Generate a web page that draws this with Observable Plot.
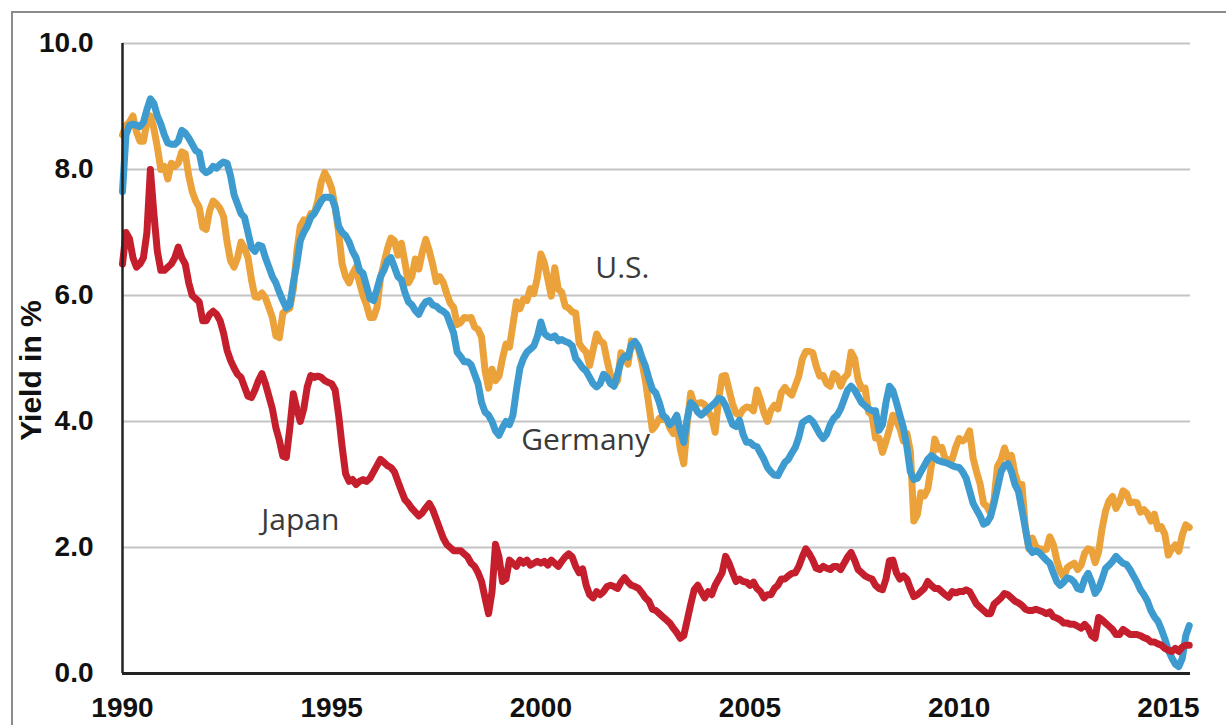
<!DOCTYPE html>
<html><head><meta charset="utf-8">
<script src="https://cdn.jsdelivr.net/npm/d3@7"></script>
<script src="https://cdn.jsdelivr.net/npm/@observablehq/plot@0.6"></script>
<style>
html,body{margin:0;padding:0;background:#fff;}
#wrap{position:relative;width:1226px;height:725px;overflow:hidden;background:#fff;}
#frame{position:absolute;left:11px;top:11px;width:1300px;height:800px;border-left:2px solid #8c8c8c;border-top:2px solid #8c8c8c;}
#chart{position:absolute;left:0;top:0;}
</style></head><body>
<div id="wrap"><div id="frame"></div><div id="chart"></div></div>
<script>
// Monthly 10-year government bond yields (%), Jan 1990 onward
const startYear = 1990;
const usYield = [
8.55,8.70,8.75,8.85,8.60,8.45,8.45,8.75,8.85,8.65,8.35,8.00,
8.05,7.85,8.10,8.05,8.10,8.28,8.25,7.90,7.65,7.50,7.40,7.08,
7.05,7.35,7.50,7.45,7.38,7.25,6.85,6.55,6.45,6.60,6.85,6.75,
6.60,6.25,5.98,5.97,6.04,5.96,5.81,5.65,5.36,5.33,5.72,5.77,
5.80,6.10,6.70,7.10,7.20,7.15,7.30,7.30,7.50,7.80,7.95,7.85,
7.70,7.40,7.00,6.50,6.30,6.20,6.35,6.45,6.20,6.00,5.85,5.65,
5.65,5.81,6.27,6.51,6.74,6.91,6.87,6.64,6.83,6.53,6.20,6.30,
6.58,6.42,6.69,6.89,6.71,6.49,6.22,6.30,6.21,6.03,5.88,5.81,
5.54,5.57,5.65,5.64,5.65,5.50,5.46,5.34,4.81,4.53,4.83,4.65,
4.72,5.00,5.23,5.18,5.54,5.90,5.79,5.94,5.92,6.11,6.03,6.28,
6.66,6.52,6.26,5.99,6.44,6.10,6.05,5.83,5.80,5.74,5.72,5.24,
5.16,5.10,4.89,5.14,5.39,5.28,5.24,4.97,4.73,4.57,4.65,5.09,
5.04,4.91,5.28,5.21,5.16,4.93,4.65,4.26,3.87,3.94,4.05,4.03,
4.05,3.90,3.81,3.96,3.57,3.33,3.98,4.45,4.27,4.29,4.30,4.27,
4.15,4.08,3.83,4.35,4.72,4.73,4.50,4.28,4.13,4.10,4.19,4.23,
4.22,4.17,4.50,4.34,4.14,4.00,4.18,4.26,4.20,4.46,4.54,4.47,
4.42,4.57,4.72,4.99,5.11,5.11,5.09,4.88,4.72,4.73,4.60,4.56,
4.76,4.72,4.56,4.69,4.75,5.10,5.00,4.67,4.52,4.53,4.15,4.10,
3.74,3.74,3.51,3.68,3.88,4.10,4.01,3.89,3.69,3.81,3.53,2.42,
2.52,2.87,2.82,2.93,3.29,3.72,3.56,3.59,3.40,3.39,3.40,3.59,
3.73,3.69,3.73,3.85,3.42,3.20,3.01,2.70,2.65,2.54,2.76,3.29,
3.39,3.58,3.41,3.46,3.17,3.00,3.00,2.30,1.98,2.15,2.01,1.98,
1.97,1.97,2.17,2.05,1.80,1.62,1.53,1.68,1.72,1.75,1.65,1.72,
1.91,1.98,1.96,1.76,1.93,2.30,2.58,2.74,2.81,2.62,2.72,2.90,
2.86,2.71,2.72,2.71,2.56,2.60,2.54,2.42,2.53,2.30,2.33,2.21,
1.88,1.98,2.04,1.94,2.20,2.36,2.32
];
const germanyYield = [
7.65,8.55,8.70,8.72,8.70,8.68,8.75,8.95,9.12,9.05,8.85,8.72,
8.55,8.42,8.40,8.40,8.45,8.62,8.58,8.50,8.40,8.30,8.27,8.00,
7.95,7.98,8.05,8.02,8.08,8.12,8.10,7.90,7.60,7.45,7.30,7.24,
7.00,6.76,6.70,6.80,6.78,6.60,6.45,6.30,6.20,6.05,5.92,5.80,
5.85,6.20,6.50,6.87,7.00,7.10,7.24,7.30,7.40,7.50,7.56,7.56,
7.55,7.40,7.10,7.00,6.95,6.85,6.70,6.60,6.40,6.35,6.15,5.95,
5.92,6.10,6.30,6.40,6.55,6.60,6.45,6.30,6.25,6.05,5.90,5.85,
5.76,5.70,5.82,5.90,5.92,5.85,5.83,5.78,5.75,5.70,5.55,5.40,
5.10,5.03,4.95,4.95,4.90,4.75,4.60,4.30,4.15,4.10,4.00,3.85,
3.78,3.90,4.00,3.95,4.10,4.50,4.85,5.00,5.10,5.15,5.20,5.35,
5.58,5.40,5.35,5.33,5.36,5.28,5.30,5.27,5.25,5.20,5.00,4.93,
4.85,4.80,4.70,4.60,4.55,4.60,4.75,4.70,4.60,4.56,4.75,4.95,
5.04,5.02,5.22,5.27,5.19,5.02,4.88,4.68,4.51,4.45,4.30,4.10,
4.05,3.95,4.00,4.10,3.85,3.67,4.05,4.30,4.25,4.15,4.10,4.15,
4.20,4.25,4.30,4.37,4.35,4.25,4.10,3.95,3.92,4.02,3.80,3.67,
3.67,3.62,3.60,3.50,3.40,3.27,3.20,3.15,3.14,3.25,3.35,3.40,
3.50,3.59,3.75,3.98,4.02,4.05,4.00,3.90,3.80,3.73,3.80,3.95,
4.05,4.10,4.20,4.35,4.50,4.56,4.50,4.40,4.30,4.25,4.20,4.17,
4.17,3.86,3.95,4.30,4.56,4.49,4.30,4.10,3.90,3.60,3.20,3.08,
3.10,3.20,3.30,3.40,3.46,3.42,3.38,3.36,3.35,3.33,3.30,3.28,
3.27,3.20,3.10,2.90,2.70,2.60,2.50,2.37,2.40,2.49,2.70,2.95,
3.20,3.30,3.33,3.20,3.00,2.89,2.60,2.30,2.00,1.92,1.95,1.92,
1.86,1.80,1.75,1.60,1.46,1.40,1.45,1.52,1.50,1.45,1.35,1.33,
1.50,1.59,1.45,1.27,1.35,1.50,1.67,1.72,1.78,1.86,1.80,1.75,
1.73,1.65,1.55,1.45,1.33,1.25,1.15,1.00,0.90,0.83,0.70,0.55,
0.37,0.25,0.15,0.11,0.24,0.60,0.76
];
const japanYield = [
6.50,7.00,6.90,6.60,6.45,6.50,6.60,7.00,8.00,7.30,6.70,6.40,
6.40,6.45,6.50,6.60,6.77,6.60,6.50,6.20,6.00,5.95,5.90,5.60,
5.60,5.70,5.75,5.70,5.60,5.40,5.13,4.97,4.85,4.75,4.70,4.55,
4.40,4.38,4.50,4.65,4.76,4.60,4.40,4.20,3.90,3.70,3.45,3.43,
3.90,4.44,4.20,4.00,4.20,4.55,4.73,4.70,4.72,4.70,4.65,4.62,
4.60,4.50,4.10,3.60,3.17,3.05,3.08,3.00,3.05,3.08,3.05,3.10,
3.20,3.30,3.40,3.35,3.30,3.27,3.20,3.05,2.90,2.76,2.70,2.62,
2.56,2.50,2.55,2.63,2.70,2.60,2.45,2.30,2.15,2.05,2.00,1.95,
1.95,1.95,1.90,1.85,1.75,1.70,1.60,1.46,1.20,0.95,1.30,2.05,
1.85,1.46,1.50,1.80,1.75,1.70,1.80,1.75,1.80,1.72,1.75,1.78,
1.75,1.78,1.72,1.80,1.75,1.70,1.78,1.85,1.90,1.85,1.70,1.60,
1.66,1.40,1.25,1.20,1.30,1.25,1.30,1.38,1.40,1.38,1.35,1.45,
1.52,1.45,1.40,1.38,1.35,1.28,1.20,1.15,1.02,1.00,0.95,0.90,
0.85,0.80,0.72,0.65,0.56,0.60,0.85,1.10,1.33,1.40,1.30,1.20,
1.30,1.25,1.40,1.50,1.60,1.86,1.75,1.60,1.46,1.50,1.46,1.45,
1.40,1.45,1.35,1.30,1.20,1.25,1.25,1.35,1.40,1.50,1.50,1.55,
1.59,1.60,1.70,1.85,1.98,1.90,1.80,1.67,1.65,1.70,1.67,1.65,
1.70,1.70,1.65,1.75,1.85,1.92,1.80,1.65,1.60,1.55,1.52,1.50,
1.40,1.35,1.33,1.50,1.79,1.80,1.60,1.50,1.55,1.50,1.35,1.22,
1.25,1.30,1.35,1.46,1.40,1.35,1.35,1.30,1.25,1.21,1.30,1.28,
1.30,1.30,1.33,1.30,1.20,1.10,1.05,1.00,0.95,0.95,1.10,1.15,
1.20,1.27,1.25,1.20,1.15,1.12,1.08,1.02,1.00,1.00,1.02,1.00,
0.98,0.95,0.98,0.90,0.88,0.85,0.80,0.80,0.78,0.78,0.75,0.72,
0.78,0.72,0.60,0.56,0.89,0.85,0.80,0.75,0.70,0.62,0.62,0.70,
0.66,0.62,0.62,0.62,0.60,0.57,0.55,0.50,0.50,0.47,0.45,0.40,
0.37,0.35,0.40,0.35,0.42,0.45,0.45
];
const xDomain = [1990, 2015.53];
const yDomain = [0, 10];
const xTicks = [1990, 1995, 2000, 2005, 2010, 2015];
const yTicks = [0, 2, 4, 6, 8, 10];
const yTickLabels = ["0.0", "2.0", "4.0", "6.0", "8.0", "10.0"];
const seriesNames = ["U.S.", "Germany", "Japan"];
const seriesColors = ["#EBA23A", "#3E9BCF", "#C51F2D"];
const labelX = [2001.95, 2001.07, 1994.25];
const labelY = [6.43, 3.70, 2.43];
const yAxisTitle = "Yield in %";

const rows = (values) => values.map((v, i) => ({date: startYear + i / 12, value: v}));
const series = [usYield, germanyYield, japanYield].map(rows);
const annotations = seriesNames.map((name, i) => ({name, x: labelX[i], y: labelY[i]}));

const chart = Plot.plot({
  width: 1226, height: 725,
  marginLeft: 122, marginRight: 36, marginTop: 43, marginBottom: 52,
  x: {domain: xDomain},
  y: {domain: yDomain},
  style: {background: "transparent", fontFamily: "'Liberation Sans', Arial, sans-serif", fontSize: "28px", fontWeight: "bold", color: "#111"},
  marks: [
    Plot.ruleY(yTicks.slice(1), {stroke: "#c4c4c4", strokeWidth: 2}),
    ...series.map((d, i) => Plot.line(d, {x: "date", y: "value", stroke: seriesColors[i], strokeWidth: 7, strokeLinejoin: "round", strokeLinecap: "round"})),
    Plot.ruleX([xDomain[0]], {stroke: "#222", strokeWidth: 2.5}),
    Plot.ruleY([yDomain[0]], {stroke: "#222", strokeWidth: 3}),
    Plot.axisX({ticks: xTicks, tickSize: 0, tickPadding: 24, tickFormat: d => String(d), label: null, fontSize: 28, fontWeight: "bold", fill: "#111"}),
    Plot.axisY({ticks: yTicks, tickSize: 0, tickPadding: 29, tickFormat: d => yTickLabels[yTicks.indexOf(d)], label: null, fontSize: 28, fontWeight: "bold", fill: "#111"}),
    Plot.text([yAxisTitle], {frameAnchor: "left", textAnchor: "middle", dx: -91, dy: 12, rotate: -90, fontSize: 30, fontWeight: "bold", fill: "#111"}),
    Plot.text(annotations, {x: "x", y: "y", text: "name", fontFamily: "'Open Sans', sans-serif", fontWeight: "normal", fontSize: 30, fill: "#3a3a3a"})
  ]
});
document.getElementById("chart").appendChild(chart);
</script>
</body></html>
